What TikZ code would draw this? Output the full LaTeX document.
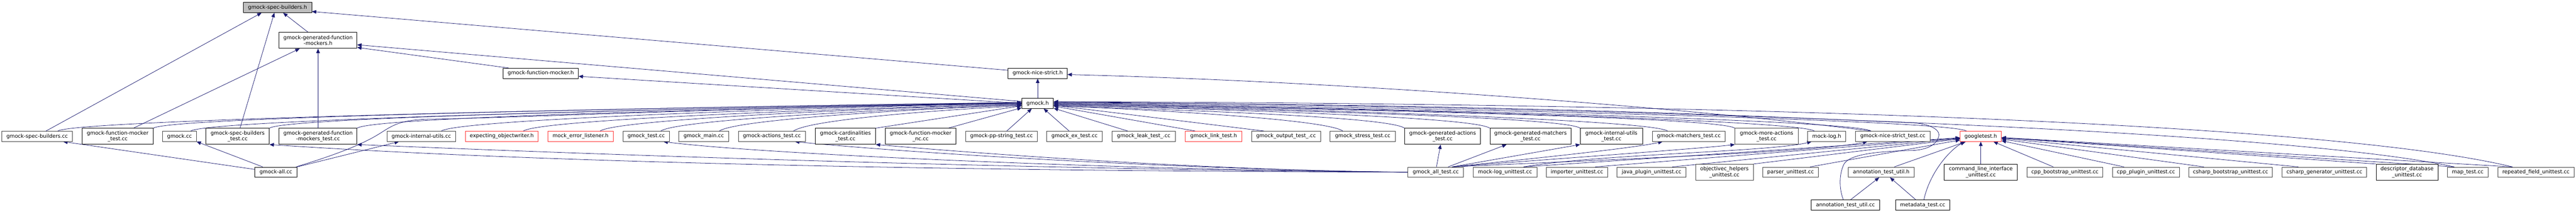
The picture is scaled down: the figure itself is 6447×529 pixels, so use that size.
\documentclass[tikz,border=0pt]{standalone}
\usepackage{fontspec}
\setmainfont{DejaVu Sans}
\usetikzlibrary{arrows.meta}
\pgfdeclarelayer{bg}
\pgfsetlayers{bg,main}
\definecolor{edgecol}{HTML}{191970}
\definecolor{bgrey}{HTML}{404040}
\definecolor{bred}{HTML}{FF3030}
\definecolor{topfill}{HTML}{BFBFBF}
\tikzset{
  box/.style={draw=bgrey, line width=1pt, fill=white, inner sep=0pt, minimum height=25.5pt, align=center, font=\fontsize{13pt}{14.9pt}\selectfont},
  two/.style={minimum height=40pt},
  blk/.style={draw=black},
  rd/.style={draw=bred},
  dep/.style={draw=edgecol, line width=1pt, arrows={Triangle[length=11pt,width=9pt]-}}
}
\begin{document}
\begin{tikzpicture}[x=1pt,y=-1pt]
\useasboundingbox (0,0) rectangle (6447,529);
% rows
\node[box, blk, fill=topfill, minimum width=170.8pt] (top) at (694.6,18.8) {gmock-spec-builders.h};
\node[box, blk, two, minimum width=194.6pt] (gfmh) at (796,101) {gmock-generated-function\\-mockers.h};
\node[box, blk, minimum width=188.4pt] (gfm) at (1353.2,183.3) {gmock-function-mocker.h};
\node[box, blk, minimum width=148pt] (gns) at (2597,183.3) {gmock-nice-strict.h};
\node[box, blk, minimum width=79.2pt] (gmockh) at (2597,258.3) {gmock.h};
% row D
\node[box, minimum width=176.3pt] (gsbcc) at (93,340.8) {gmock-spec-builders.cc};
\node[box, blk, two, minimum width=177.7pt] (gfmt) at (294.5,340.8) {gmock-function-mocker\\\_test.cc};
\node[box, minimum width=84.4pt] (gcc) at (449.2,340.8) {gmock.cc};
\node[box, blk, two, minimum width=158.4pt] (gsbt) at (594.7,340.8) {gmock-spec-builders\\\_test.cc};
\node[box, blk, two, minimum width=194.6pt] (ggfmt) at (796,340.8) {gmock-generated-function\\-mockers\_test.cc};
\node[box, minimum width=172.2pt] (giucc) at (1054.5,340.8) {gmock-internal-utils.cc};
\node[box, rd, minimum width=182.9pt] (eow) at (1255.8,340.8) {expecting\_objectwriter.h};
\node[box, rd, minimum width=163.2pt] (mel) at (1452.9,340.8) {mock\_error\_listener.h};
\node[box, minimum width=116.4pt] (gtest) at (1617.2,340.8) {gmock\_test.cc};
\node[box, minimum width=123.9pt] (gmain) at (1761.2,340.8) {gmock\_main.cc};
\node[box, minimum width=168.4pt] (gat) at (1931.8,340.8) {gmock-actions\_test.cc};
\node[box, blk, two, minimum width=150.9pt] (gct) at (2115.9,340.8) {gmock-cardinalities\\\_test.cc};
\node[box, blk, two, minimum width=177.3pt] (gfmnc) at (2304,340.8) {gmock-function-mocker\\\_nc.cc};
\node[box, minimum width=179.4pt] (gpps) at (2506.5,340.8) {gmock-pp-string\_test.cc};
\node[box, minimum width=139.1pt] (gex) at (2689.2,340.8) {gmock\_ex\_test.cc};
\node[box, minimum width=159.1pt] (gleak) at (2862.4,340.8) {gmock\_leak\_test\_.cc};
\node[box, rd, minimum width=141.8pt] (glink) at (3037.4,340.8) {gmock\_link\_test.h};
\node[box, minimum width=172.3pt] (gout) at (3218.5,340.8) {gmock\_output\_test\_.cc};
\node[box, minimum width=163.2pt] (gstress) at (3410.4,340.8) {gmock\_stress\_test.cc};
\node[box, blk, two, minimum width=189.4pt] (ggat) at (3610.4,340.8) {gmock-generated-actions\\\_test.cc};
\node[box, blk, two, minimum width=203.1pt] (ggmt) at (3830.5,340.8) {gmock-generated-matchers\\\_test.cc};
\node[box, blk, two, minimum width=155.3pt] (giut) at (4032.8,340.8) {gmock-internal-utils\\\_test.cc};
\node[box, minimum width=182.6pt] (gmt) at (4226.6,340.8) {gmock-matchers\_test.cc};
\node[box, two, minimum width=157.9pt] (gmat) at (4421.2,340.8) {gmock-more-actions\\\_test.cc};
\node[box, minimum width=95.3pt] (mlog) at (4571.8,340.8) {mock-log.h};
\node[box, minimum width=186.5pt] (gnst) at (4737.1,340.8) {gmock-nice-strict\_test.cc};
\node[box, rd, minimum width=103pt] (gth) at (4957.3,340.8) {googletest.h};
% row E
\node[box, blk, minimum width=105.4pt] (gall) at (690.5,430.4) {gmock-all.cc};
\node[box, minimum width=139.1pt] (gallt) at (3593.2,430.4) {gmock\_all\_test.cc};
\node[box, minimum width=159.5pt] (mlu) at (3766.6,430.4) {mock-log\_unittest.cc};
\node[box, minimum width=153.6pt] (imp) at (3946.6,430.4) {importer\_unittest.cc};
\node[box, minimum width=172.2pt] (java) at (4133.2,430.4) {java\_plugin\_unittest.cc};
\node[box, two, minimum width=144.5pt] (objc) at (4315.7,430.4) {objectivec\_helpers\\\_unittest.cc};
\node[box, minimum width=139.1pt] (parser) at (4481.2,430.4) {parser\_unittest.cc};
\node[box, minimum width=164.6pt] (atuh) at (4708.1,430.4) {annotation\_test\_util.h};
\node[box, blk, two, minimum width=183pt] (cli) at (4957.3,430.4) {command\_line\_interface\\\_unittest.cc};
\node[box, minimum width=189.4pt] (cppb) at (5167.9,430.4) {cpp\_bootstrap\_unittest.cc};
\node[box, minimum width=166.7pt] (cppp) at (5370.7,430.4) {cpp\_plugin\_unittest.cc};
\node[box, minimum width=209.6pt] (csb) at (5582.5,430.4) {csharp\_bootstrap\_unittest.cc};
\node[box, minimum width=211pt] (csg) at (5817.2,430.4) {csharp\_generator\_unittest.cc};
\node[box, blk, two, minimum width=155.2pt] (ddb) at (6024.1,430.4) {descriptor\_database\\\_unittest.cc};
\node[box, minimum width=101.6pt] (map) at (6176,430.4) {map\_test.cc};
\node[box, minimum width=191.5pt] (rep) at (6346.7,430.4) {repeated\_field\_unittest.cc};
% row F
\node[box, blk, minimum width=171pt] (atucc) at (4618.5,512.7) {annotation\_test\_util.cc};
\node[box, blk, minimum width=134.8pt] (meta) at (4811.8,512.7) {metadata\_test.cc};

\begin{pgfonlayer}{bg}
\fill[white] (0,0) rectangle (6447,529);
% to gmock-spec-builders.h
\draw[dep] ([xshift=-40pt]top.south) -- ([xshift=22pt]gsbcc.north);
\draw[dep] ([xshift=-8pt]top.south) -- ([xshift=6pt]gsbt.north);
\draw[dep] ([xshift=14pt]top.south) -- ([xshift=-25pt]gfmh.north);
\draw[dep] ([yshift=-10pt]top.east) -- ([yshift=7.7pt]gns.west);
% to generated-function-mockers.h
\draw[dep] ([xshift=-46pt]gfmh.south) -- ([xshift=39.5pt]gfmt.north);
\draw[dep] (gfmh.south) -- (ggfmt.north);
\draw[dep] ([yshift=-11pt]gfmh.east) -- ([yshift=4.7pt]gmockh.west);
\draw[dep] ([yshift=-17.6pt]gfmh.east) -- ([xshift=-80pt]gfm.north);
% to function-mocker.h
\draw[dep] ([yshift=-7.5pt]gfm.east) -- (gmockh.west);
% to nice-strict.h
\draw[dep] (gns.south) -- (gmockh.north);
\draw[dep] ([yshift=-3pt]gns.east) .. controls (3400,205) and (4250,272) .. ([xshift=-54.6pt]gnst.north);
% to gmock.h from the left
\draw[dep] ([yshift=2pt]gmockh.west) .. controls +(-965,12) and +(40,-28) .. ([xshift=51.6pt]gsbcc.north);
\draw[dep] ([yshift=2pt]gmockh.west) .. controls +(-870,12) and +(40,-28) .. (gfmt.north east);
\draw[dep] ([yshift=1pt]gmockh.west) .. controls +(-832,12) and +(40,-28) .. ([xshift=28pt]gcc.north);
\draw[dep] ([yshift=1pt]gmockh.west) .. controls +(-753,12) and +(40,-28) .. (gsbt.north east);
\draw[dep] (gmockh.west) .. controls +(-666,12) and +(40,-28) .. (ggfmt.north east);
\draw[dep] (gmockh.west) .. controls +(-581,12) and +(40,-28) .. ([xshift=50pt]giucc.north);
\draw[dep] ([yshift=-2pt]gmockh.west) .. controls +(-499,12) and +(40,-28) .. ([xshift=54pt]eow.north);
\draw[dep] ([yshift=-2pt]gmockh.west) .. controls +(-422,12) and +(40,-28) .. ([xshift=49pt]mel.north);
\draw[dep] ([yshift=-4pt]gmockh.west) .. controls +(-361,12) and +(40,-28) .. ([xshift=36.5pt]gtest.north);
\draw[dep] ([yshift=-4pt]gmockh.west) .. controls +(-303,12) and +(40,-28) .. ([xshift=39pt]gmain.north);
\draw[dep] ([yshift=-6pt]gmockh.west) .. controls +(-229,12) and +(40,-28) .. ([xshift=54pt]gat.north);
\draw[dep] (gmockh) -- (gct.north east);
\draw[dep] (gmockh) -- ([xshift=69pt]gfmnc.north);
\draw[dep] (gmockh) -- ([xshift=13pt]gpps.north);
\draw[dep] (gmockh.west) .. controls +(-700,10) and (1250,296) .. (1070,298) .. controls (990,300) and (975,320) .. (940,340) .. controls (880,375) and (780,405) .. ([xshift=-3pt]gall.north east);
% to gmock.h from the right
\draw[dep] (gmockh) -- ([xshift=-13.4pt]gex.north);
\draw[dep] (gmockh) -- ([xshift=-40pt]gleak.north);
\draw[dep] (gmockh) -- ([xshift=-46pt]glink.north);
\draw[dep] (gmockh) -- ([xshift=-55pt]gout.north);
\draw[dep] ([yshift=-6pt]gmockh.east) .. controls +(290,12) and +(-40,-28) .. ([xshift=-49.6pt]gstress.north);
\draw[dep] ([yshift=-6pt]gmockh.east) .. controls +(352,12) and +(-40,-28) .. (ggat.north west);
\draw[dep] ([yshift=-4pt]gmockh.east) .. controls +(437,12) and +(-40,-28) .. (ggmt.north west);
\draw[dep] ([yshift=-4pt]gmockh.east) .. controls +(528,12) and +(-40,-28) .. (giut.north west);
\draw[dep] ([yshift=-2pt]gmockh.east) .. controls +(615,12) and +(-40,-28) .. ([xshift=-53pt]gmt.north);
\draw[dep] ([yshift=-2pt]gmockh.east) .. controls +(682,12) and +(-40,-28) .. (gmat.north west);
\draw[dep] (gmockh.east) .. controls +(762,12) and +(-40,-28) .. ([xshift=-31pt]mlog.north);
\draw[dep] (gmockh.east) .. controls +(818,12) and +(-40,-28) .. ([xshift=-54.6pt]gnst.north);
\draw[dep] ([yshift=2pt]gmockh.east) .. controls +(914,12) and +(-40,-28) .. ([xshift=-36pt]gth.north);
\draw[dep] ([yshift=2pt]gmockh.east) .. controls (3900,262) and (4500,296) .. (4790,307) .. controls (4840,312) and (4856,328) .. (4852,341) .. controls (4848,358) and (4830,373) .. (4790,376) .. controls (4700,378) and (4630,385) .. (4615,410) .. controls (4600,440) and (4605,480) .. ([xshift=-5pt]atucc.north);
\draw[dep] ([yshift=4pt]gmockh.east) .. controls (4000,268) and (5700,320) .. ([xshift=-34pt]map.north);
\draw[dep] ([yshift=4pt]gmockh.east) .. controls (4200,258) and (5800,300) .. ([xshift=-59pt]rep.north);
% to googletest.h
\draw[dep] (gth) -- ([xshift=46.7pt]mlu.north);
\draw[dep] (gth) -- ([xshift=45.8pt]imp.north);
\draw[dep] (gth) -- ([xshift=52pt]java.north);
\draw[dep] (gth) -- (objc.north east);
\draw[dep] (gth) -- ([xshift=49pt]parser.north);
\draw[dep] (gth) -- ([xshift=32.8pt]atuh.north);
\draw[dep] ([xshift=-40pt]gth.south) .. controls (4880,375) and (4830,430) .. ([xshift=3pt]meta.north);
\draw[dep] (gth.south) -- (cli.north);
\draw[dep] (gth) -- ([xshift=-29pt]cppb.north);
\draw[dep] (gth) -- ([xshift=-55pt]cppp.north);
\draw[dep] (gth) -- ([xshift=-67pt]csb.north);
\draw[dep] (gth) -- ([xshift=-65pt]csg.north);
\draw[dep] (gth) -- (ddb.north west);
\draw[dep] (gth) -- ([xshift=-34pt]map.north);
\draw[dep] (gth) -- ([xshift=-59pt]rep.north);
% annotation_test_util.h
\draw[dep] ([xshift=-5pt]atuh.south) -- ([xshift=12.6pt]atucc.north);
\draw[dep] ([xshift=22pt]atuh.south) -- ([xshift=-17pt]meta.north);
% mock-log.h
\draw[dep] ([xshift=-38pt]mlog.south) .. controls (4430,380) and (4000,385) .. ([xshift=46.7pt]mlu.north);
% gmock_all_test.cc
\draw[dep] ([xshift=-5pt]ggat.south) -- ([xshift=1.8pt]gallt.north);
\draw[dep] ([xshift=-60pt]ggmt.south) -- ([xshift=31pt]gallt.north);
\draw[dep] (giut.south west) -- ([xshift=41pt]gallt.north);
\draw[dep] ([xshift=-65.6pt]gmt.south) .. controls (4080,372) and (3800,400) .. ([xshift=41pt]gallt.north);
\draw[dep] (gmat.south west) .. controls (4250,372) and (3850,400) .. ([xshift=41pt]gallt.north);
\draw[dep] ([xshift=-63.5pt]gnst.south) .. controls (4550,380) and (4000,400) .. ([xshift=41pt]gallt.north);
\draw[dep] (gsbt.south east) .. controls (1400,410) and (2500,428) .. (gallt.west);
\draw[dep] (ggfmt.south east) .. controls (1700,395) and (2700,425) .. (gallt.west);
\draw[dep] ([xshift=43pt]gtest.south) .. controls (1900,385) and (2800,425) .. (gallt.west);
\draw[dep] ([xshift=57.7pt]gat.south) .. controls (2300,385) and (3000,425) .. (gallt.west);
\draw[dep] (gct.south east) .. controls (2700,405) and (3200,428) .. (gallt.west);
% gmock-all.cc
\draw[dep] ([xshift=65pt]gsbcc.south) -- ([yshift=7pt]gall.west);
\draw[dep] (gcc.south east) -- ([xshift=-33pt]gall.north);
\draw[dep] ([xshift=-56pt]giucc.south) -- (gall.north east);
\end{pgfonlayer}
\end{tikzpicture}
\end{document}
